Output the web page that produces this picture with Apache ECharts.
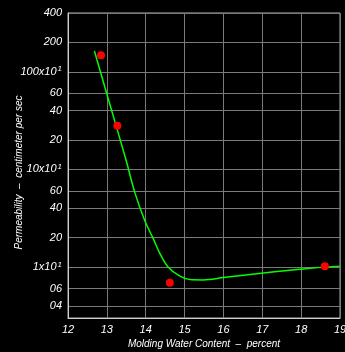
<!DOCTYPE html>
<html>
<head>
<meta charset="utf-8">
<script src="https://cdn.jsdelivr.net/npm/echarts@6/dist/echarts.min.js"></script>
<style>
  html, body { margin: 0; padding: 0; background: #000; }
  #chart { width: 345px; height: 352px; }
</style>
</head>
<body>
<div id="chart"></div>
<script>
// measured points (percent, cm/sec scaled)
const pointX = [12.85, 13.27, 14.62, 18.61];
const pointY = [1480, 280, 6.9, 10.2];

// fitted curve
const curveX = [12.68, 13.08, 13.49, 13.72, 13.98, 14.2, 14.37, 14.58, 14.88, 15.14, 15.48, 16.0, 17.03, 18.06, 19.0];
const curveY = [1630, 459, 126, 57.8, 29.6, 19.3, 13.6, 9.93, 8.04, 7.43, 7.37, 7.78, 8.69, 9.55, 10.2];

const yTicks = [4, 6, 10, 20, 40, 60, 100, 200, 400, 600, 1000, 2000, 4000];
const yTickLabels = ["04", "06", "1x10|1", "20", "40", "60", "10x10|1", "20", "40", "60", "100x10|1", "200", "400"];

const font = "Liberation Sans";

function yLabel(value) {
  let best = 0;
  for (let i = 1; i < yTicks.length; i++) {
    if (Math.abs(Math.log(yTicks[i] / value)) < Math.abs(Math.log(yTicks[best] / value))) best = i;
  }
  const parts = yTickLabels[best].split("|");
  if (parts.length === 2) return `{a|${parts[0]}}{s|${parts[1]}}`;
  return `{a|${parts[0]}}`;
}

const chart = echarts.init(document.getElementById("chart"));

chart.setOption({
  backgroundColor: "#000",
  animation: false,
  grid: {
    left: 68,
    right: 5,
    top: 13,
    bottom: 34,
    containLabel: false,
    outerBoundsMode: "none",
    show: true,
    borderColor: "#b0b0b0",
    borderWidth: 1,
  },
  xAxis: {
    type: "value",
    min: 12,
    max: 19,
    interval: 1,
    name: "Molding Water Content  –  percent",
    nameLocation: "middle",
    nameGap: 21,
    nameMoveOverlap: false,
    nameTextStyle: { color: "#fff", fontStyle: "italic", fontFamily: font, fontSize: 10 },
    axisLine: { lineStyle: { color: "#d0d0d0" } },
    axisTick: { show: false },
    axisLabel: { color: "#fff", fontStyle: "italic", fontFamily: font, fontSize: 11, margin: 6 },
    splitLine: { lineStyle: { color: "#7a7a7a", width: 1 } },
  },
  yAxis: {
    type: "log",
    min: 3,
    max: 4000,
    name: "Permeability  –  centimeter per sec",
    nameLocation: "middle",
    nameGap: 44,
    nameMoveOverlap: false,
    nameRotate: 90,
    nameTextStyle: { color: "#fff", fontStyle: "italic", fontFamily: font, fontSize: 10, padding: [0, 14, 0, 0] },
    axisLine: { show: true, lineStyle: { color: "#d0d0d0" } },
    axisTick: { show: false, customValues: yTicks },
    axisLabel: {
      customValues: yTicks,
      formatter: yLabel,
      margin: 6,
      rich: {
        a: { color: "#fff", fontStyle: "italic", fontFamily: font, fontSize: 11 },
        s: { color: "#fff", fontStyle: "italic", fontFamily: font, fontSize: 8, verticalAlign: "top", padding: [0, 0, 5, 1] },
      },
    },
    splitLine: { show: true, lineStyle: { color: "#7a7a7a", width: 1 } },
  },
  series: [
    {
      name: "curve",
      type: "line",
      data: curveX.map((x, i) => [x, curveY[i]]),
      smooth: 0.3,
      showSymbol: false,
      lineStyle: { color: "#00ff00", width: 1.5 },
      z: 2,
    },
    {
      name: "tests",
      type: "scatter",
      data: pointX.map((x, i) => [x, pointY[i]]),
      symbolSize: 8,
      itemStyle: { color: "#ff0000", opacity: 1 },
      z: 3,
    },
  ],
});
</script>
</body>
</html>
